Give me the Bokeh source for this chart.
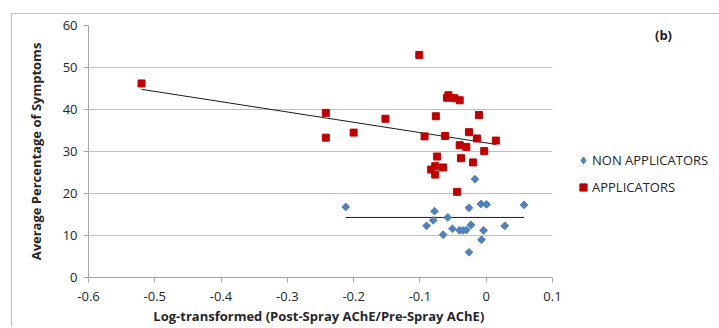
import numpy as np
from bokeh.plotting import figure
from bokeh.layouts import column, row
from bokeh.models import Range1d, Legend, LegendItem, FixedTicker, Label
from bokeh.embed import file_html
from bokeh.resources import INLINE

# Applicators (red squares)
app_x = [-0.520, -0.242, -0.242, -0.200, -0.152, -0.101, -0.093, -0.083, -0.077, -0.077,
         -0.076, -0.074, -0.065, -0.062, -0.059, -0.057, -0.048, -0.044, -0.040, -0.040,
         -0.038, -0.030, -0.026, -0.020, -0.014, -0.011, -0.003, 0.0145]
app_y = [46.2, 39.2, 33.3, 34.5, 37.8, 53.0, 33.6, 25.7, 26.5, 24.5,
         38.4, 28.8, 26.2, 33.7, 42.8, 43.4, 42.7, 20.4, 42.2, 31.5,
         28.4, 31.1, 34.6, 27.4, 33.1, 38.7, 30.1, 32.6]

# Non applicators (blue diamonds)
non_x = [-0.212, -0.017, -0.078, -0.026, -0.008, 0.0005, 0.057, -0.080, -0.058, -0.090,
         -0.051, -0.065, -0.040, -0.035, -0.030, -0.023, -0.004, 0.028, -0.007, -0.026]
non_y = [16.8, 23.4, 15.8, 16.6, 17.5, 17.4, 17.3, 13.6, 14.3, 12.3,
         11.6, 10.2, 11.2, 11.2, 11.3, 12.5, 11.2, 12.3, 9.0, 6.0]

# Linear trend lines (as drawn in the source)
app_trend_x = [-0.520, 0.0145]
app_trend_y = [44.8, 31.7]
non_trend_x = [-0.212, 0.057]
non_trend_y = [14.3, 14.3]

x_ticks = [-0.6, -0.5, -0.4, -0.3, -0.2, -0.1, 0.0, 0.1]
x_tick_labels = ["-0.6", "-0.5", "-0.4", "-0.3", "-0.2", "-0.1", "0", "0.1"]
y_ticks = [0, 10, 20, 30, 40, 50, 60]

series_names = ["NON APPLICATORS", "APPLICATORS"]
x_title = "Log-transformed  (Post-Spray AChE/Pre-Spray AChE)"
y_title = "Average Percentage of Symptoms"
panel_tag = "(b)"

FONT = "Open Sans"
TXT = "#262626"
BLUE = "#4F81BD"
RED = "#C00000"

H = 313
BT, BB = 11, 49
p = figure(width=552, height=H, x_range=Range1d(-0.6, 0.1), y_range=Range1d(0, 60),
           output_backend="svg", toolbar_location=None,
           min_border_left=76, min_border_top=BT, min_border_right=12, min_border_bottom=BB)
p.outline_line_color = None
p.background_fill_color = "white"
p.border_fill_color = "white"

# grid
p.xgrid.visible = False
p.ygrid.ticker = FixedTicker(ticks=y_ticks)
p.ygrid.grid_line_color = "#BFBFBF"
p.ygrid.grid_line_width = 1

# axes
for ax in (p.xaxis[0], p.yaxis[0]):
    ax.axis_line_color = "#A6A6A6"
    ax.major_tick_line_color = "#A6A6A6"
    ax.major_tick_out = 5
    ax.major_tick_in = 0
    ax.minor_tick_line_color = None
    ax.major_label_text_font = FONT
    ax.major_label_text_font_size = "13px"
    ax.major_label_text_color = TXT
    ax.axis_label_text_font = FONT
    ax.axis_label_text_font_size = "13px"
    ax.axis_label_text_font_style = "bold"
    ax.axis_label_text_color = TXT

p.xaxis[0].ticker = FixedTicker(ticks=x_ticks)
p.xaxis[0].major_label_overrides = {t: l for t, l in zip(x_ticks, x_tick_labels)}
p.xaxis[0].axis_label = x_title
p.xaxis[0].major_label_standoff = 9
p.xaxis[0].axis_label_standoff = 3

p.yaxis[0].ticker = FixedTicker(ticks=y_ticks)
p.yaxis[0].axis_label = y_title
p.yaxis[0].major_label_standoff = 6
p.yaxis[0].axis_label_standoff = 15

# trend lines
p.line(app_trend_x, app_trend_y, line_color="#1a1a1a", line_width=1)
p.line(non_trend_x, non_trend_y, line_color="#1a1a1a", line_width=1)

# points
p.scatter(non_x, non_y, marker="square", angle=np.pi / 4, size=5.5,
          fill_color=BLUE, line_color=BLUE)
p.scatter(app_x, app_y, marker="square", size=7, fill_color=RED, line_color=RED)

# ---- side figure holding the legend and the panel tag ----
# its x range lies beyond the data, so the series drawn here only feed the legend keys
W2 = 155
FH = H - BT - BB
q = figure(width=W2, height=H, x_range=Range1d(10, 10 + W2), y_range=Range1d(0, FH),
           output_backend="svg", toolbar_location=None,
           x_axis_location=None, y_axis_location=None,
           min_border_left=0, min_border_right=0, min_border_top=BT, min_border_bottom=BB)
q.grid.visible = False
q.outline_line_color = None
q.background_fill_color = "white"
q.border_fill_color = "white"

k_non = q.scatter(non_x, non_y, marker="diamond", size=5.5,
                  fill_color=BLUE, line_color=BLUE)
k_app = q.scatter(app_x, app_y, marker="square", size=7, fill_color=RED, line_color=RED)

legend = Legend(items=[LegendItem(label=series_names[0], renderers=[k_non]),
                       LegendItem(label=series_names[1], renderers=[k_app])],
                location=(10, 81), orientation="vertical")
legend.border_line_color = None
legend.background_fill_alpha = 0
legend.padding = 0
legend.margin = 0
legend.spacing = 9
legend.glyph_width = 18
legend.glyph_height = 18
legend.label_height = 18
legend.label_standoff = 0
legend.label_text_font = FONT
legend.label_text_font_size = "13px"
legend.label_text_color = TXT
legend.label_text_baseline = "middle"
q.add_layout(legend)

q.add_layout(Label(x=99, y=FH - 1, x_units="screen", y_units="screen", text=panel_tag,
                   text_font=FONT, text_font_size="13px", text_font_style="bold",
                   text_color="#1a1a1a", text_align="center", text_baseline="top"))

page = column(row(p, q), margin=(13, 0, 0, 11),
              styles={"border-top": "1px solid #BFBFBF", "border-left": "1px solid #BFBFBF"})

open("out.html", "w").write(file_html(page, INLINE))
